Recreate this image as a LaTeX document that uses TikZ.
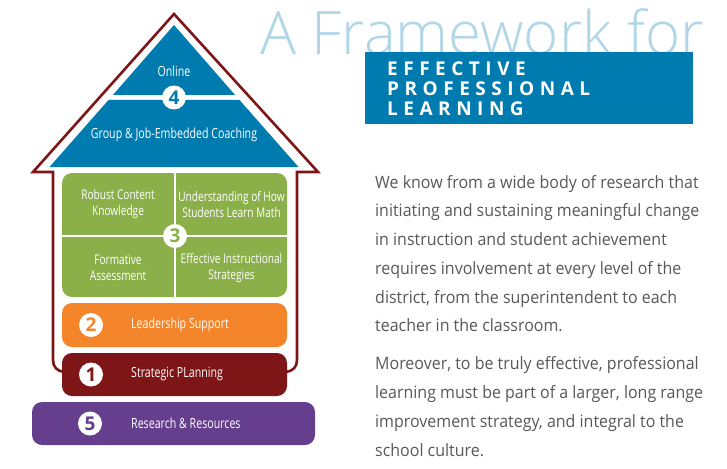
\documentclass[tikz,border=0pt]{standalone}
\usepackage{fontspec}
\setmainfont{Open Sans}
\newfontfamily\titlefont{Open Sans Light}
\newfontfamily\condfont[FakeStretch=0.76]{Open Sans}
\newfontfamily\headfont[LetterSpace=29]{Open Sans}
\newfontfamily\bodyfont[FakeStretch=0.94]{Open Sans}
\definecolor{fwblue}{RGB}{0,123,175}
\definecolor{fwgreen}{RGB}{139,176,74}
\definecolor{fworange}{RGB}{245,133,42}
\definecolor{fwred}{RGB}{126,22,24}
\definecolor{fwpurple}{RGB}{101,62,142}
\definecolor{fwlight}{RGB}{176,214,232}
\definecolor{fwgrey}{RGB}{88,88,88}
\tikzset{
  label/.style={font=\condfont\fontsize{14}{15}\selectfont, text=white, align=center, inner sep=0pt},
  glabel/.style={font=\condfont\fontsize{13.3}{16}\selectfont, text=white, align=center, inner sep=0pt},
  numcirc/.style={circle, fill=white, minimum size=24pt, inner sep=0pt, font=\bfseries\fontsize{19}{19}\selectfont},
  bar/.style={rounded corners=10pt},
  divider/.style={white, line width=2pt},
}
\begin{document}
\begin{tikzpicture}[x=1pt,y=-1pt]
\useasboundingbox (0,0) rectangle (727,468);
% title
\node[font=\titlefont\fontsize{60}{60}\selectfont, text=fwlight, anchor=base west, inner sep=0pt] (title) at (260,55) {A Framework for};
\fill[fwblue] (365,52) rectangle (693,124);
\node[font=\headfont\bfseries\fontsize{19}{20}\selectfont, text=white, align=left, anchor=north west, inner sep=0pt] (head) at (387,62) {EFFECTIVE\\PROFESSIONAL\\LEARNING};
% house outline
\draw[fwred, line width=2.6pt, line join=miter] (64,372) .. controls (57,371) and (53,367) .. (53,360) -- (53,172) -- (33,172) -- (174,14) -- (318,172) -- (297,172) -- (297,360) .. controls (297,367) and (293,371) .. (286,372);
% roof
\fill[fwblue] (174,25) -- (235.1,95) -- (112.9,95) -- cycle;
\fill[fwblue] (108.5,100) -- (239.5,100) -- (298.5,167) -- (49.5,167) -- cycle;
\node[label] (online) at (174,71) {Online};
\node[label] (coach) at (174,135) {Group \& Job-Embedded Coaching};
\node[numcirc, text=fwblue] (n4) at (174,97.5) {4};
% green block
\fill[fwgreen, bar] (62,173) rectangle (287,297);
\draw[divider] (175,173) -- (175,297);
\draw[divider] (62,236) -- (287,236);
\node[glabel] (rck) at (118,204) {Robust Content\\Knowledge};
\node[glabel] (uhs) at (231.5,204) {Understanding of How\\Students Learn Math};
\node[glabel] (fa) at (118,268) {Formative\\Assessment};
\node[glabel] (eis) at (231.5,268) {Effective Instructional\\Strategies};
\node[numcirc, text=fwgreen] (n3) at (175,236) {3};
% bars
\fill[fworange, bar] (62,303) rectangle (287,347);
\node[numcirc, text=fworange] (n2) at (91,325) {2};
\node[label, anchor=west] (ls) at (131,325) {Leadership Support};
\fill[fwred, bar] (62,353) rectangle (287,396);
\node[numcirc, text=fwred] (n1) at (91,374.5) {1};
\node[label, anchor=west] (sp) at (131,374.5) {Strategic PLanning};
\fill[fwpurple, bar] (32,402) rectangle (315,445);
\node[numcirc, text=fwpurple] (n5) at (90,423.5) {5};
\node[label, anchor=west] (rr) at (131,423.5) {Research \& Resources};
% body text
\node[font=\bodyfont\fontsize{17}{28.7}\selectfont, text=fwgrey, align=left, anchor=north west, inner sep=0pt] (body) at (375,175) {We know from a wide body of research that\\initiating and sustaining meaningful change\\in instruction and student achievement\\requires involvement at every level of the\\district, from the superintendent to each\\teacher in the classroom.\\[9.5pt]Moreover, to be truly effective, professional\\learning must be part of a larger, long range\\improvement strategy, and integral to the\\school culture.};
\end{tikzpicture}
\end{document}
